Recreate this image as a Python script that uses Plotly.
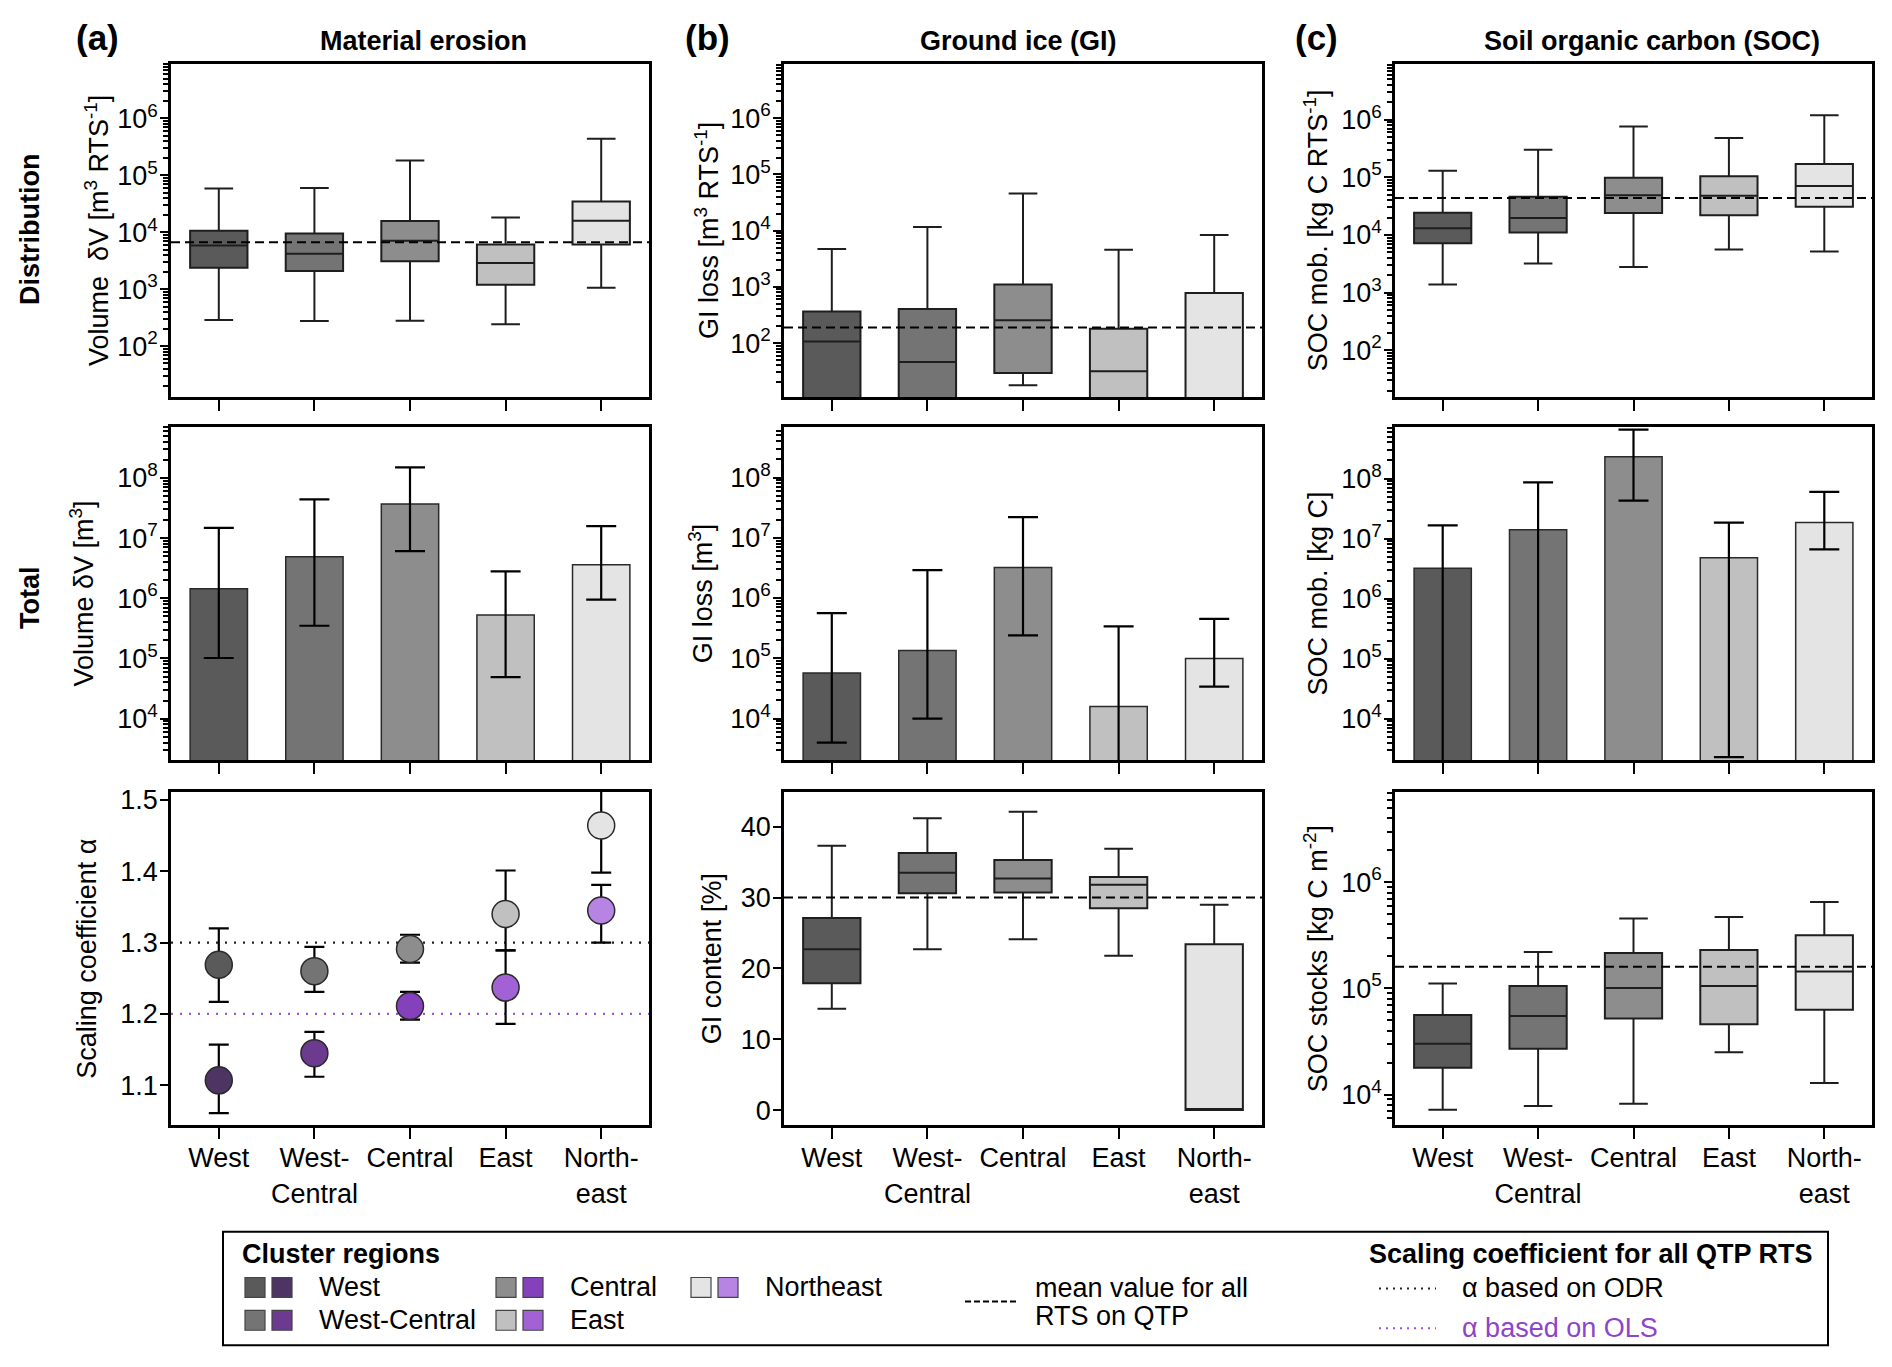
import plotly.graph_objects as go

# ---------------- data ----------------
categories = ["West", "West-Central", "Central", "East", "Northeast"]
tick_labels = ["West", "West-<br>Central", "Central", "East", "North-<br>east"]
gray_colors = ["#5a5a5a", "#747474", "#8d8d8d", "#c0c0c0", "#e4e4e4"]
purple_colors = ["#4e3463", "#6c3b8f", "#8540bb", "#a262d6", "#b884e4"]

# (a) material erosion - distribution per RTS [m3]
vol_dist_low = [290, 278, 280, 245, 1070]
vol_dist_q1 = [2400, 2100, 3100, 1200, 6100]
vol_dist_med = [5900, 4200, 7100, 2900, 16000]
vol_dist_q3 = [10700, 9600, 15800, 6100, 35000]
vol_dist_high = [59000, 60000, 183000, 18300, 440000]
vol_dist_mean = 6700

# (a) total volume [m3]
vol_total = [1.45e6, 4.9e6, 3.7e7, 5.3e5, 3.6e6]
vol_total_low = [1.02e5, 3.5e5, 6.1e6, 4.9e4, 9.5e5]
vol_total_high = [1.48e7, 4.4e7, 1.5e8, 2.8e6, 1.58e7]

# (a) scaling coefficient alpha
alpha_odr = [1.269, 1.260, 1.291, 1.340, 1.464]
alpha_odr_low = [1.217, 1.231, 1.272, 1.289, 1.398]
alpha_odr_high = [1.320, 1.294, 1.311, 1.401, 1.530]
alpha_ols = [1.107, 1.145, 1.211, 1.237, 1.345]
alpha_ols_low = [1.061, 1.112, 1.192, 1.186, 1.300]
alpha_ols_high = [1.157, 1.175, 1.231, 1.289, 1.381]
alpha_odr_all = 1.30
alpha_ols_all = 1.20

# (b) ground ice loss - distribution per RTS [m3]
gi_dist_low = [1, 1, 17.8, 1, 1]
gi_dist_q1 = [2, 2, 29.5, 2, 2]
gi_dist_med = [107, 46, 256, 31.5, 2]
gi_dist_q3 = [363, 405, 1100, 180, 775]
gi_dist_high = [4700, 11600, 46000, 4600, 8400]
gi_dist_mean = 190

# (b) total GI loss [m3]
gi_total = [5.7e4, 1.35e5, 3.2e6, 1.58e4, 9.9e4]
gi_total_low = [4.0e3, 1.0e4, 2.4e5, 1.0e3, 3.4e4]
gi_total_high = [5.6e5, 2.9e6, 2.2e7, 3.4e5, 4.5e5]

# (b) GI content [%]
gi_cont_low = [14.3, 22.7, 24.1, 21.8, 0]
gi_cont_q1 = [17.9, 30.6, 30.7, 28.5, 0]
gi_cont_med = [22.7, 33.5, 32.7, 31.8, 0]
gi_cont_q3 = [27.1, 36.3, 35.3, 32.9, 23.4]
gi_cont_high = [37.3, 41.2, 42.1, 36.9, 29.0]
gi_cont_mean = 30.0

# (c) SOC mobilisation per RTS [kg C]
soc_dist_low = [1380, 3200, 2800, 5600, 5200]
soc_dist_q1 = [7200, 11000, 24000, 22000, 31000]
soc_dist_med = [13100, 19700, 49000, 48000, 71000]
soc_dist_q3 = [24400, 46000, 98000, 104000, 170000]
soc_dist_high = [130000, 300000, 760000, 480000, 1190000]
soc_dist_mean = 44000

# (c) total SOC mobilised [kg C]
soc_total = [3.2e6, 1.4e7, 2.3e8, 4.8e6, 1.85e7]
soc_total_low = [1e3, 1e3, 4.3e7, 2.3e3, 6.6e6]
soc_total_high = [1.66e7, 8.6e7, 6.5e8, 1.85e7, 6.0e7]

# (c) SOC stocks [kg C m-2]
soc_stock_low = [7200, 7800, 8200, 25000, 12800]
soc_stock_q1 = [17900, 27000, 52000, 46000, 63000]
soc_stock_med = [30000, 55000, 101000, 105000, 144000]
soc_stock_q3 = [56000, 105000, 215000, 230000, 316000]
soc_stock_high = [111000, 220000, 455000, 470000, 650000]
soc_stock_mean = 160000

# ---------------- layout helpers ----------------
W, H = 1892, 1367
FONT = "Liberation Sans, Arial, sans-serif"
TICK_FONT = dict(family=FONT, size=27, color="black")
TITLE_FONT = dict(family=FONT, size=27, color="black")


def pxx(x):
    return x / W


def pxy(y):
    return 1 - y / H


col_x = [(163, 641), (776, 1254), (1387, 1864)]
row_y = [(49, 384), (414, 749), (781, 1116)]
xpos = list(range(len(categories)))

fig = go.Figure()
layout = dict(
    width=W, height=H, margin=dict(l=0, r=0, t=0, b=0),
    paper_bgcolor="white", plot_bgcolor="white", showlegend=False,
    boxmode="overlay", barmode="overlay",
    font=dict(family=FONT, color="black"),
)

minor_log = [m * 10 ** k for k in range(0, 10) for m in range(2, 10)]


def ax_names(r, c):
    k = r * 3 + c + 1
    s = "" if k == 1 else str(k)
    return "x" + s, "y" + s, "xaxis" + s, "yaxis" + s


def set_axes(r, c, ytitle, ylog, yrange, major=None, lin_ticks=None, standoff=6):
    xn, yn, xk, yk = ax_names(r, c)
    x0, x1 = col_x[c]
    y0, y1 = row_y[r]
    layout[xk] = dict(
        domain=[pxx(x0), pxx(x1)], anchor=yn, range=[-0.5, 4.5],
        tickmode="array", tickvals=xpos,
        ticktext=tick_labels if r == 2 else [""] * 5,
        showticklabels=(r == 2), ticklabelstandoff=-4,
        ticks="outside", ticklen=11, tickwidth=2, tickcolor="black",
        showline=True, linecolor="black", linewidth=2.5, mirror=True,
        showgrid=False, zeroline=False, tickfont=TICK_FONT, fixedrange=True,
    )
    ya = dict(
        domain=[pxy(y1), pxy(y0)], anchor=xn, range=yrange,
        ticks="outside", ticklen=8, tickwidth=2, tickcolor="black",
        ticklabelstandoff=-3,
        showline=True, linecolor="black", linewidth=2.5, mirror=True,
        showgrid=False, zeroline=False, tickfont=TICK_FONT,
        title=dict(text=ytitle, font=TITLE_FONT, standoff=standoff), fixedrange=True,
    )
    if ylog:
        ya.update(
            type="log", tickmode="array",
            tickvals=[10 ** e for e in major],
            ticktext=["10<sup>%d</sup>" % e for e in major],
            minor=dict(tickmode="array", tickvals=minor_log, ticks="outside",
                       ticklen=5, tickwidth=1.5, tickcolor="black"),
        )
    else:
        ya.update(tickmode="array", tickvals=lin_ticks,
                  ticktext=[("%g" % v) for v in lin_ticks])
    layout[yk] = ya
    return xn, yn


def add_boxes(xn, yn, low, q1, med, q3, high, mean):
    for i in xpos:
        fig.add_trace(go.Box(
            x=[i], q1=[q1[i]], median=[med[i]], q3=[q3[i]],
            lowerfence=[low[i]], upperfence=[high[i]],
            width=0.6, whiskerwidth=0.5, fillcolor=gray_colors[i],
            line=dict(color="#1e1e1e", width=2), boxpoints=False,
            xaxis=xn, yaxis=yn, hoverinfo="skip", name=categories[i],
        ))
    fig.add_trace(go.Scatter(
        x=[-0.5, 4.5], y=[mean, mean], mode="lines",
        line=dict(color="black", width=2, dash="9px,5px"),
        xaxis=xn, yaxis=yn, hoverinfo="skip",
    ))


def add_bars(xn, yn, vals, low, high):
    fig.add_trace(go.Bar(
        x=xpos, y=vals, width=0.6,
        marker=dict(color=gray_colors, line=dict(color="#2a2a2a", width=1.5)),
        error_y=dict(type="data", symmetric=False,
                     array=[h - v for h, v in zip(high, vals)],
                     arrayminus=[v - l for v, l in zip(vals, low)],
                     color="black", thickness=2.2, width=15),
        xaxis=xn, yaxis=yn, hoverinfo="skip",
    ))


# ---------------- panels ----------------
# (a)
xn, yn = set_axes(0, 0, "Volume  δV [m<sup>3</sup> RTS<sup>-1</sup>]", True, [1.11, 6.96],
                  major=range(2, 7), standoff=1)
add_boxes(xn, yn, vol_dist_low, vol_dist_q1, vol_dist_med, vol_dist_q3, vol_dist_high, vol_dist_mean)

xn, yn = set_axes(1, 0, "Volume δV [m<sup>3</sup>]", True, [3.31, 8.85], major=range(4, 9), standoff=16)
add_bars(xn, yn, vol_total, vol_total_low, vol_total_high)

xn, yn = set_axes(2, 0, "Scaling coefficient α", False, [1.044, 1.511],
                  lin_ticks=[1.1, 1.2, 1.3, 1.4, 1.5], standoff=16)
fig.add_trace(go.Scatter(x=[-0.5, 4.5], y=[alpha_odr_all] * 2, mode="lines",
                         line=dict(color="#222222", width=2.2, dash="2px,7px"),
                         xaxis=xn, yaxis=yn, hoverinfo="skip"))
fig.add_trace(go.Scatter(x=[-0.5, 4.5], y=[alpha_ols_all] * 2, mode="lines",
                         line=dict(color="#9b55d8", width=2.2, dash="2px,7px"),
                         xaxis=xn, yaxis=yn, hoverinfo="skip"))
for vals, lo, hi, cols in [(alpha_odr, alpha_odr_low, alpha_odr_high, gray_colors),
                           (alpha_ols, alpha_ols_low, alpha_ols_high, purple_colors)]:
    fig.add_trace(go.Scatter(
        x=xpos, y=vals, mode="markers",
        marker=dict(size=27, color=cols, line=dict(color="#2a2a2a", width=1.5)),
        error_y=dict(type="data", symmetric=False,
                     array=[h - v for h, v in zip(hi, vals)],
                     arrayminus=[v - l for v, l in zip(vals, lo)],
                     color="black", thickness=2.2, width=10),
        xaxis=xn, yaxis=yn, hoverinfo="skip",
    ))

# (b)
xn, yn = set_axes(0, 1, "GI loss [m<sup>3</sup> RTS<sup>-1</sup>]", True, [1.04, 6.97],
                  major=range(2, 7), standoff=4)
add_boxes(xn, yn, gi_dist_low, gi_dist_q1, gi_dist_med, gi_dist_q3, gi_dist_high, gi_dist_mean)

xn, yn = set_axes(1, 1, "GI loss [m<sup>3</sup>]", True, [3.31, 8.84], major=range(4, 9), standoff=10)
add_bars(xn, yn, gi_total, gi_total_low, gi_total_high)

xn, yn = set_axes(2, 1, "GI content [%]", False, [-2.15, 44.9], lin_ticks=[0, 10, 20, 30, 40],
                  standoff=12)
add_boxes(xn, yn, gi_cont_low, gi_cont_q1, gi_cont_med, gi_cont_q3, gi_cont_high, gi_cont_mean)

# (c)
xn, yn = set_axes(0, 2, "SOC mob. [kg C RTS<sup>-1</sup>]", True, [1.19, 6.97], major=range(2, 7))
add_boxes(xn, yn, soc_dist_low, soc_dist_q1, soc_dist_med, soc_dist_q3, soc_dist_high, soc_dist_mean)

xn, yn = set_axes(1, 2, "SOC mob. [kg C]", True, [3.31, 8.86], major=range(4, 9))
add_bars(xn, yn, soc_total, soc_total_low, soc_total_high)

xn, yn = set_axes(2, 2, "SOC stocks [kg C m<sup>-2</sup>]", True, [3.71, 6.85], major=range(4, 7))
add_boxes(xn, yn, soc_stock_low, soc_stock_q1, soc_stock_med, soc_stock_q3, soc_stock_high, soc_stock_mean)

# ---------------- annotations ----------------
ann = []
shapes = []


def text(x, y, s, size=27, bold=False, xanchor="left", color="black", angle=0):
    ann.append(dict(
        x=pxx(x), y=pxy(y), xref="paper", yref="paper", text=("<b>%s</b>" % s) if bold else s,
        showarrow=False, xanchor=xanchor, yanchor="middle", textangle=angle,
        font=dict(family=FONT, size=size, color=color),
    ))


text(89, 23, "(a)", size=35, bold=True, xanchor="center")
text(699, 23, "(b)", size=35, bold=True, xanchor="center")
text(1308, 23, "(c)", size=35, bold=True, xanchor="center")
text(415, 26, "Material erosion", size=27, bold=True, xanchor="center")
text(1010, 26, "Ground ice (GI)", size=27, bold=True, xanchor="center")
text(1644, 26, "Soil organic carbon (SOC)", size=27, bold=True, xanchor="center")
text(22, 216, "Distribution", size=27, bold=True, xanchor="center", angle=-90)
text(22, 586, "Total", size=27, bold=True, xanchor="center", angle=-90)

# legend frame
LX, LY = -8, -8
shapes.append(dict(type="rect", xref="paper", yref="paper",
                   x0=pxx(223 + LX), x1=pxx(1828 + LX), y0=pxy(1345 + LY), y1=pxy(1231 + LY),
                   line=dict(color="black", width=2), fillcolor="rgba(0,0,0,0)"))
text(240 + LX, 1253 + LY, "Cluster regions", size=27, bold=True)
legend_slots = [(245, 1287), (245, 1320), (496, 1287), (496, 1320), (691, 1287)]
for i, (lx, ly) in enumerate(legend_slots):
    lx += LX
    ly += LY
    for j, col in enumerate([gray_colors[i], purple_colors[i]]):
        sx = lx + j * 27
        shapes.append(dict(type="rect", xref="paper", yref="paper",
                           x0=pxx(sx), x1=pxx(sx + 20), y0=pxy(ly + 10), y1=pxy(ly - 10),
                           line=dict(color="#444444", width=1.2), fillcolor=col))
    text(lx + 72, ly, categories[i], size=27)

shapes.append(dict(type="line", xref="paper", yref="paper",
                   x0=pxx(965 + LX), x1=pxx(1017 + LX), y0=pxy(1301 + LY), y1=pxy(1301 + LY),
                   line=dict(color="black", width=2, dash="6px,3px")))
text(1033 + LX, 1288 + LY, "mean value for all", size=27)
text(1033 + LX, 1316 + LY, "RTS on QTP", size=27)

text(1367 + LX, 1253 + LY, "Scaling coefficient for all QTP RTS", size=27, bold=True)
shapes.append(dict(type="line", xref="paper", yref="paper",
                   x0=pxx(1379 + LX), x1=pxx(1436 + LX), y0=pxy(1288 + LY), y1=pxy(1288 + LY),
                   line=dict(color="#222222", width=2, dash="2px,5px")))
text(1460 + LX, 1288 + LY, "α based on ODR", size=27)
shapes.append(dict(type="line", xref="paper", yref="paper",
                   x0=pxx(1379 + LX), x1=pxx(1436 + LX), y0=pxy(1328 + LY), y1=pxy(1328 + LY),
                   line=dict(color="#9b55d8", width=2, dash="2px,5px")))
text(1460 + LX, 1328 + LY, "α based on OLS", size=27, color="#8e44c8")

layout["annotations"] = ann
layout["shapes"] = shapes
fig.update_layout(**layout)
fig.write_html("out.html")
